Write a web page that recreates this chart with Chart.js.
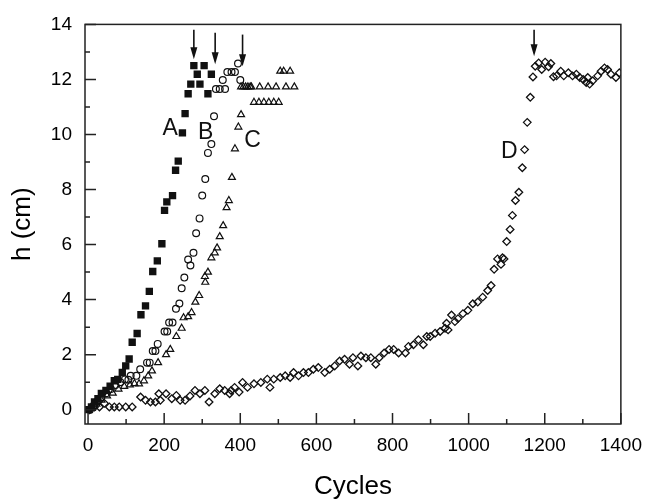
<!DOCTYPE html>
<html>
<head>
<meta charset="utf-8">
<script src="https://cdn.jsdelivr.net/npm/chart.js@4"></script>
<style>
  html, body { margin: 0; padding: 0; background: #fff; }
</style>
</head>
<body>
<canvas id="chart" width="652" height="502"></canvas>
<script>
// A: filled squares
const cyclesA = [2, 9, 17, 26, 35, 47, 58, 69, 78, 90, 99, 108, 116, 129, 139, 151, 161, 170, 182, 194, 201, 207, 222, 230, 237, 248, 255, 263, 270, 278, 287, 294, 305, 315, 324];
const heightA = [0, 0.1, 0.28, 0.4, 0.59, 0.7, 0.85, 1.05, 1.1, 1.35, 1.59, 1.84, 2.45, 2.77, 3.45, 3.77, 4.3, 5.02, 5.41, 6.03, 7.24, 7.55, 7.78, 8.7, 9.03, 10.06, 10.76, 11.48, 11.83, 12.5, 12.19, 11.83, 12.5, 11.48, 12.19];

// B: open circles
const cyclesB = [5, 15, 25, 35, 48, 60, 72, 85, 97, 106, 112, 127, 137, 155, 162, 170, 177, 183, 201, 208, 213, 222, 231, 240, 246, 253, 263, 269, 277, 284, 293, 300, 308, 315, 324, 331, 336, 346, 354, 360, 366, 377, 386, 394, 400];
const heightB = [0, 0.15, 0.3, 0.45, 0.6, 0.75, 0.9, 1.0, 1.1, 1.09, 1.23, 1.23, 1.47, 1.71, 1.71, 2.13, 2.13, 2.39, 2.84, 2.84, 3.17, 3.17, 3.67, 3.86, 4.41, 4.8, 5.46, 5.24, 5.7, 6.41, 6.95, 7.78, 8.38, 9.33, 9.65, 10.66, 11.65, 11.65, 11.98, 11.65, 12.27, 12.27, 12.27, 12.58, 11.98];

// C: open triangles
const cyclesC = [10, 22, 35, 50, 65, 80, 95, 110, 122, 134, 147, 158, 168, 184, 205, 216, 232, 246, 251, 263, 272, 282, 292, 307, 308, 315, 324, 333, 339, 346, 355, 364, 370, 378, 386, 395, 402, 402, 408, 414, 420, 426, 429, 451, 473, 494, 520, 542, 436, 449, 462, 475, 488, 501, 505, 514, 531];
const heightC = [0.05, 0.2, 0.35, 0.5, 0.6, 0.75, 0.85, 0.9, 0.95, 0.94, 1.05, 1.23, 1.41, 1.71, 2.0, 2.19, 2.66, 2.96, 3.34, 3.38, 3.53, 3.91, 4.15, 4.84, 4.63, 5.0, 5.52, 5.7, 5.88, 6.29, 6.69, 7.34, 7.6, 8.44, 9.48, 10.27, 10.72, 11.73, 11.73, 11.73, 11.73, 11.73, 11.73, 11.73, 11.73, 11.73, 11.73, 11.73, 11.17, 11.17, 11.17, 11.17, 11.17, 11.17, 12.3, 12.3, 12.3];

// D: open diamonds
const cyclesD = [4, 17, 30, 43, 56, 69, 82, 99, 116, 138, 151, 164, 177, 186, 190, 205, 220, 232, 242, 255, 268, 281, 294, 307, 318, 333, 346, 359, 372, 376, 385, 397, 406, 419, 436, 454, 471, 478, 488, 505, 518, 531, 540, 553, 566, 579, 592, 605, 622, 635, 648, 661, 674, 687, 696, 709, 717, 730, 743, 756, 765, 778, 791, 803, 816, 834, 842, 855, 868, 881, 890, 899, 912, 925, 938, 942, 946, 955, 964, 972, 985, 998, 1011, 1024, 1037, 1050, 1059, 1067, 1076, 1085, 1089, 1093, 1100, 1109, 1115, 1123, 1132, 1141, 1147, 1154, 1162, 1169, 1175, 1184, 1192, 1201, 1210, 1216, 1223, 1231, 1242, 1250, 1262, 1273, 1283, 1292, 1301, 1309, 1313, 1318, 1326, 1339, 1348, 1357, 1365, 1374, 1387, 1396];
const heightD = [0, 0.1, 0.1, 0.23, 0.1, 0.1, 0.1, 0.1, 0.1, 0.46, 0.34, 0.28, 0.28, 0.58, 0.34, 0.58, 0.4, 0.52, 0.34, 0.34, 0.5, 0.7, 0.58, 0.7, 0.28, 0.58, 0.76, 0.7, 0.58, 0.7, 0.81, 0.64, 0.99, 0.81, 0.94, 0.99, 1.11, 0.81, 1.11, 1.17, 1.23, 1.17, 1.35, 1.23, 1.35, 1.35, 1.47, 1.53, 1.35, 1.47, 1.59, 1.77, 1.83, 1.65, 1.89, 1.59, 1.95, 1.89, 1.89, 1.65, 1.89, 2.06, 2.19, 2.19, 2.06, 2.06, 2.3, 2.36, 2.54, 2.36, 2.66, 2.66, 2.78, 2.84, 2.96, 3.14, 2.9, 3.44, 3.2, 3.31, 3.49, 3.61, 3.85, 3.91, 4.09, 4.33, 4.51, 5.1, 5.48, 5.28, 5.52, 5.48, 6.11, 6.55, 7.06, 7.6, 7.9, 8.79, 9.45, 10.44, 11.35, 12.09, 12.48, 12.6, 12.36, 12.63, 12.46, 12.58, 12.1, 12.13, 12.3, 12.13, 12.24, 12.13, 12.19, 12.07, 12.0, 11.89, 12.07, 11.83, 11.95, 12.13, 12.3, 12.42, 12.36, 12.19, 12.07, 12.24];

const xTicks = [0, 200, 400, 600, 800, 1000, 1200, 1400];
const yTicks = [0, 2, 4, 6, 8, 10, 12, 14];
const xMinorTicks = [100, 300, 500, 700, 900, 1100, 1300];
const yMinorTicks = [1, 3, 5, 7, 9, 11, 13];

// curve labels and the arrows marking where each run levels off
const curveNames = ['A', 'B', 'C', 'D'];
const nameCycles = [216, 309, 432, 1107];
const nameHeights = [10.2, 10.05, 9.77, 9.39];
const arrowCycles = [278, 334, 406, 1172];
const arrowTops = [13.81, 13.7, 13.63, 13.81];
const arrowTips = [12.73, 12.55, 12.48, 12.84];

const FONT = "'Liberation Sans', Arial, sans-serif";
const INK = '#111';

function pts(xs, ys) {
  return xs.map((x, i) => ({ x, y: ys[i] }));
}

const decorations = {
  id: 'decorations',
  afterDraw(chart) {
    const { ctx, chartArea: a, scales: { x, y } } = chart;
    ctx.save();
    ctx.strokeStyle = '#222';
    ctx.lineWidth = 1.5;
    ctx.strokeRect(a.left, a.top, a.right - a.left, a.bottom - a.top);

    // inward tick marks
    ctx.beginPath();
    const tick = (v, len, horiz) => {
      if (horiz) {
        const px = x.getPixelForValue(v);
        ctx.moveTo(px, a.bottom); ctx.lineTo(px, a.bottom - len);
      } else {
        const py = y.getPixelForValue(v);
        ctx.moveTo(a.left, py); ctx.lineTo(a.left + len, py);
      }
    };
    xTicks.forEach(v => tick(v, 11, true));
    xMinorTicks.forEach(v => tick(v, 5, true));
    yTicks.forEach(v => tick(v, 11, false));
    yMinorTicks.forEach(v => tick(v, 5, false));
    ctx.stroke();

    // arrows
    ctx.strokeStyle = INK;
    ctx.fillStyle = INK;
    ctx.lineWidth = 1.6;
    arrowCycles.forEach((c, i) => {
      const px = x.getPixelForValue(c);
      const top = y.getPixelForValue(arrowTops[i]);
      const tip = y.getPixelForValue(arrowTips[i]);
      ctx.beginPath();
      ctx.moveTo(px, top); ctx.lineTo(px, tip - 8);
      ctx.stroke();
      ctx.beginPath();
      ctx.moveTo(px - 3.5, tip - 12); ctx.lineTo(px + 3.5, tip - 12); ctx.lineTo(px, tip);
      ctx.closePath();
      ctx.fill();
    });

    // curve names
    ctx.font = '23px ' + FONT;
    ctx.textAlign = 'center';
    ctx.textBaseline = 'middle';
    curveNames.forEach((n, i) => {
      ctx.fillText(n, x.getPixelForValue(nameCycles[i]), y.getPixelForValue(nameHeights[i]));
    });
    ctx.restore();
  }
};

new Chart(document.getElementById('chart'), {
  type: 'scatter',
  data: {
    datasets: [
      { label: 'A', data: pts(cyclesA, heightA), pointStyle: 'rect', pointRadius: 5.2,
        backgroundColor: INK, borderColor: INK, borderWidth: 0 },
      { label: 'B', data: pts(cyclesB, heightB), pointStyle: 'circle', pointRadius: 3.4,
        backgroundColor: 'rgba(0,0,0,0)', borderColor: INK, borderWidth: 1.2 },
      { label: 'C', data: pts(cyclesC, heightC), pointStyle: 'triangle', pointRadius: 4,
        backgroundColor: 'rgba(0,0,0,0)', borderColor: INK, borderWidth: 1.2 },
      { label: 'D', data: pts(cyclesD, heightD), pointStyle: 'rectRot', pointRadius: 3.8,
        backgroundColor: 'rgba(0,0,0,0)', borderColor: INK, borderWidth: 1.3 },
    ],
  },
  options: {
    responsive: false,
    devicePixelRatio: 1,
    animation: false,
    layout: { padding: { top: 17, right: 23, left: 0, bottom: 0 } },
    plugins: { legend: { display: false }, tooltip: { enabled: false } },
    elements: { point: { hoverRadius: 4 } },
    scales: {
      x: {
        type: 'linear', min: -8, max: 1400,
        afterBuildTicks: s => { s.ticks = xTicks.map(v => ({ value: v })); },
        afterFit: s => { s.height = 78; },
        grid: { display: false, drawTicks: false },
        border: { display: false },
        ticks: { color: '#000', padding: 10, font: { family: FONT, size: 19 },
                 callback: v => String(v) },
        title: { display: true, text: 'Cycles', color: '#000', padding: 0,
                 font: { family: FONT, size: 26 } },
      },
      y: {
        type: 'linear', min: -0.52, max: 14,
        afterBuildTicks: s => { s.ticks = yTicks.map(v => ({ value: v })); },
        afterFit: s => { s.width = 85; },
        grid: { display: false, drawTicks: false },
        border: { display: false },
        ticks: { color: '#000', padding: 13, font: { family: FONT, size: 19 },
                 callback: v => String(v) },
        title: { display: true, text: 'h (cm)', color: '#000', padding: { top: 7, bottom: 0 },
                 font: { family: FONT, size: 26 } },
      },
    },
  },
  plugins: [decorations],
});
</script>
</body>
</html>
